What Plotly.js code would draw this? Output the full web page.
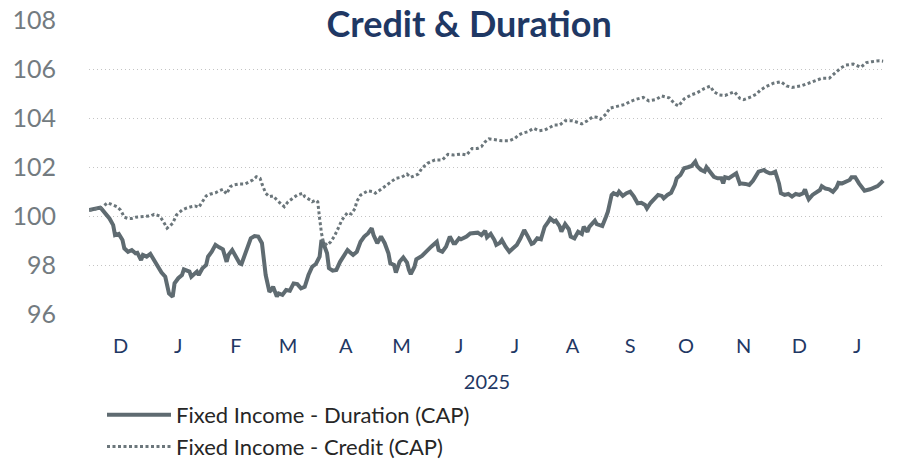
<!DOCTYPE html>
<html>
<head>
<meta charset="utf-8">
<script src="https://cdn.plot.ly/plotly-3.0.1.min.js"></script>
<style>html,body{margin:0;padding:0;background:#fff;}#chart{width:897px;height:459px;}</style>
</head>
<body>
<div id="chart"></div>
<script>
// Day offsets are counted from the start date of the series
const startDate = '2024-11-29';
const endDate = '2026-01-31';

const durationDays = [0,3,6,7,9,11,13,14,16,18,19,21,23,25,26,28,29,31,33,35,37,39,41,42,43,45,46,48,50,51,54,55,58,59,61,63,64,66,68,70,72,74,75,77,79,81,82,84,85,87,89,91,93,94,95,97,98,99,101,102,104,106,108,110,112,114,116,118,120,122,124,125,126,128,129,131,133,135,137,139,140,142,144,146,148,150,152,153,155,157,159,161,162,164,165,167,169,171,172,173,175,176,179,181,182,184,187,188,190,192,194,196,197,199,200,203,205,208,209,211,213,214,216,218,219,221,222,224,226,228,230,232,234,236,238,239,241,243,245,247,248,250,251,253,254,256,258,259,261,263,265,266,268,269,272,273,276,278,279,281,282,284,285,287,289,291,293,295,297,299,300,302,304,306,308,309,311,313,315,316,318,320,322,324,326,327,329,331,332,334,336,338,340,341,342,344,345,348,350,351,353,355,357,359,360,363,364,366,367,369,370,371,372,374,376,378,380,382,384,385,386,387,389,391,393,394,396,398,400,402,403,405,407,409,410,412,414,416,417,420,422,424,426,427];
const durationValues = [100.24,100.31,100.34,100.27,100.10,99.90,99.63,99.22,99.27,99.02,98.68,98.54,98.61,98.48,98.50,98.20,98.41,98.34,98.45,98.20,97.93,97.69,97.52,97.18,96.84,96.71,97.25,97.46,97.59,97.82,97.73,97.52,97.73,97.59,97.87,98.00,98.34,98.54,98.82,98.72,98.64,98.13,98.41,98.61,98.34,98.07,98.04,98.50,98.61,99.09,99.18,99.16,98.89,98.34,97.59,96.91,96.98,97.11,96.71,96.84,96.78,96.98,96.95,97.25,97.22,97.05,97.11,97.59,97.93,98.04,98.34,99.02,98.89,98.48,97.87,97.77,97.80,98.13,98.34,98.61,98.54,98.41,98.54,98.95,99.16,99.29,99.50,99.22,98.89,99.16,98.89,98.48,98.07,98.00,97.69,98.13,98.31,98.10,97.80,97.63,97.93,98.23,98.37,98.54,98.61,98.75,98.95,98.61,98.54,98.75,99.16,98.89,98.89,99.09,99.05,99.16,99.29,99.29,99.32,99.22,99.40,99.13,99.27,99.02,98.82,98.91,99.02,98.75,98.54,98.68,98.82,99.09,99.43,99.16,98.86,98.89,99.09,99.05,99.56,99.77,99.90,99.77,99.81,99.59,99.36,99.67,99.46,99.16,99.09,99.36,99.27,99.56,99.36,99.56,99.81,99.67,99.59,99.97,100.18,100.86,100.93,100.86,100.99,100.82,100.93,100.99,100.79,100.52,100.54,100.45,100.31,100.54,100.72,100.86,100.82,100.72,100.86,100.95,101.27,101.54,101.67,101.95,101.99,102.04,102.22,102.04,101.88,101.81,101.99,101.81,101.60,101.54,101.54,101.33,101.58,101.54,101.58,101.74,101.31,101.33,101.31,101.27,101.44,101.67,101.81,101.88,101.81,101.74,101.74,101.81,101.60,101.33,100.93,100.86,100.90,100.79,100.90,100.86,100.93,101.09,100.86,100.68,100.86,100.95,101.06,101.22,101.12,101.09,100.99,101.17,101.36,101.33,101.40,101.47,101.58,101.58,101.33,101.09,101.03,101.09,101.17,101.22,101.36,101.44];

const creditDays = [0,3,6,7,10,13,15,17,19,21,23,25,28,30,33,35,38,40,42,45,47,50,52,55,57,59,61,63,65,68,70,72,74,76,78,81,84,86,88,90,92,93,95,97,99,101,103,105,107,110,112,115,116,119,120,122,123,124,125,126,128,130,132,134,136,139,141,143,144,146,150,153,154,157,160,162,165,168,171,173,175,177,179,182,186,190,193,196,200,203,206,209,211,213,215,219,222,226,229,231,233,236,239,242,245,247,250,253,256,260,263,265,268,271,273,275,278,280,282,285,288,291,294,298,301,305,308,312,315,317,320,324,327,331,334,336,339,342,347,350,352,356,359,361,364,368,372,375,378,383,386,390,394,398,401,404,407,411,415,418,421,425,427];
const creditValues = [100.24,100.27,100.35,100.35,100.54,100.45,100.38,100.24,99.95,99.90,99.90,99.95,99.97,100.00,100.00,100.07,100.00,99.77,99.50,99.70,100.04,100.24,100.31,100.38,100.41,100.35,100.58,100.82,100.89,100.95,101.03,101.09,100.90,101.20,101.27,101.31,101.31,101.40,101.47,101.60,101.54,101.31,100.93,100.79,100.82,100.65,100.52,100.38,100.58,100.76,100.86,100.93,100.79,100.65,100.58,100.65,100.58,99.90,99.30,98.95,98.80,98.95,99.18,99.50,99.84,100.14,100.08,100.30,100.60,100.85,101.03,100.99,100.93,101.09,101.27,101.36,101.54,101.58,101.71,101.58,101.63,101.71,101.95,102.15,102.29,102.29,102.52,102.49,102.53,102.49,102.76,102.76,102.83,103.03,103.15,103.10,103.07,103.07,103.17,103.31,103.38,103.44,103.58,103.48,103.51,103.58,103.71,103.71,103.89,103.89,103.81,103.76,103.89,104.05,104.03,103.95,104.16,104.40,104.44,104.49,104.55,104.67,104.76,104.84,104.70,104.76,104.90,104.82,104.57,104.49,104.78,104.95,105.03,105.21,105.30,105.07,104.94,104.92,105.07,104.80,104.75,104.86,104.98,105.14,105.28,105.42,105.48,105.31,105.25,105.31,105.39,105.52,105.62,105.62,105.82,106.03,106.16,106.20,106.07,106.26,106.30,106.34,106.32];

const monthTickDates = ['2024-12-16','2025-01-16','2025-02-16','2025-03-16','2025-04-16','2025-05-16','2025-06-16','2025-07-16','2025-08-16','2025-09-16','2025-10-16','2025-11-16','2025-12-16','2026-01-16'];
const monthTickLabels = ['D','J','F','M','A','M','J','J','A','S','O','N','D','J'];
const yTicks = [96,98,100,102,104,106,108];

const seriesNames = ['Fixed Income - Duration (CAP)','Fixed Income - Credit (CAP)'];

function toDate(d) {
  const t = Date.parse(startDate + 'T00:00:00Z') + d * 86400000;
  return new Date(t).toISOString().slice(0, 10);
}

const lineColor = '#5f6b71';
const navy = '#1f3864';

const traces = [
  {
    x: durationDays.map(toDate), y: durationValues, type: 'scatter', mode: 'lines',
    name: seriesNames[0],
    line: {color: lineColor, width: 4}
  },
  {
    x: creditDays.map(toDate), y: creditValues, type: 'scatter', mode: 'lines',
    name: seriesNames[1],
    line: {color: '#6b767b', width: 3, dash: '3px,2.5px'}
  }
];

const layout = {
  width: 897, height: 459,
  margin: {l: 89, r: 12, t: 20, b: 145, pad: 0, autoexpand: false},
  paper_bgcolor: '#ffffff', plot_bgcolor: '#ffffff',
  font: {family: 'Lato, sans-serif'},
  title: {
    text: 'Credit & Duration',
    font: {family: 'Lato, sans-serif', size: 36, color: navy, weight: 'bold'},
    xref: 'container', yref: 'container', x: 0.523, y: 1 - 24 / 459,
    xanchor: 'center', yanchor: 'middle', automargin: false
  },
  xaxis: {
    type: 'date', range: [startDate, endDate],
    tickmode: 'array', tickvals: monthTickDates, ticktext: monthTickLabels,
    tickfont: {size: 20, color: navy},
    ticks: 'outside', ticklen: 14, tickcolor: 'rgba(0,0,0,0)',
    showgrid: false, zeroline: false, showline: false, automargin: false,
    title: {text: '2025', font: {size: 20, color: navy}, standoff: 18}
  },
  yaxis: {
    range: [96, 108], tickmode: 'array', tickvals: yTicks,
    tickfont: {size: 25, color: '#737b80'},
    ticks: 'outside', ticklen: 27, tickcolor: 'rgba(0,0,0,0)',
    showgrid: true, gridcolor: '#c4c4c4', gridwidth: 1, griddash: '1px,3px',
    zeroline: false, showline: false, automargin: false
  },
  showlegend: true,
  legend: {
    xref: 'container', yref: 'container',
    x: 102 / 897, y: 1 - 394 / 459, xanchor: 'left', yanchor: 'top',
    orientation: 'v', font: {size: 22, color: '#262626'},
    bgcolor: 'rgba(0,0,0,0)', itemwidth: 64, tracegroupgap: 0
  }
};

Plotly.newPlot('chart', traces, layout, {staticPlot: true, displayModeBar: false});
</script>
</body>
</html>
